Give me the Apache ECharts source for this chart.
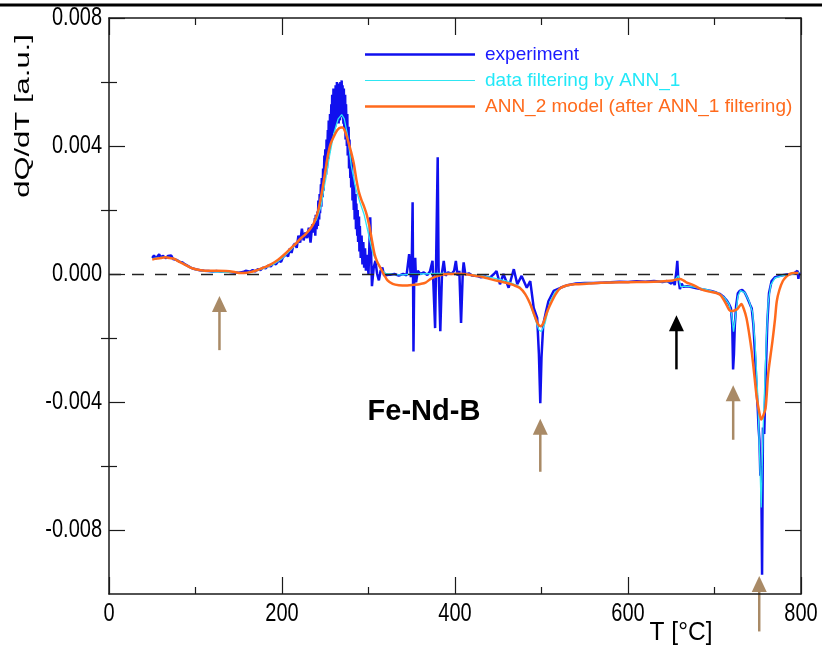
<!DOCTYPE html>
<html>
<head>
<meta charset="utf-8">
<script src="https://cdn.jsdelivr.net/npm/echarts@6/dist/echarts.min.js"></script>
<style>
  html, body { margin: 0; padding: 0; background: #fff; }
  #chart { width: 822px; height: 651px; }
</style>
</head>
<body>
<div id="chart"></div>
<script>
// Temperature axis (°C) and dQ/dT axis (a.u.)
const xTicks = [0, 200, 400, 600, 800];
const yMajorTicks = [-0.008, -0.004, 0, 0.004, 0.008];
const yMinorTicks = [-0.006, -0.002, 0.002, 0.006];

// Measured DSC signal, [T, dQ/dT]
const experiment = [
  [50,0.00050],[52,0.00058],[54,0.00048],[56,0.00055],[58,0.00062],[60,0.00050],[62,0.00057],[64,0.00060],
  [66,0.00049],[68,0.00056],[70,0.00052],[72,0.00058],[74,0.00047],[76,0.00053],[78,0.00044],[80,0.00046],
  [82,0.00038],[85,0.00036],[88,0.00030],[92,0.00024],[96,0.00018],[100,0.00015],[105,0.00012],[110,0.00010],
  [115,0.00009],[120,0.00008],[125,0.00009],[130,0.00007],[135,0.00009],[140,0.00006],[145,0.00005],[150,0.00004],
  [155,0.00006],[158,0.00010],[160,0.00005],[163,0.00007],[166,0.00012],[169,0.00008],[172,0.00015],[175,0.00012],
  [178,0.00020],[181,0.00018],[184,0.00026],[187,0.00024],[190,0.00033],[193,0.00030],[196,0.00042],[199,0.00038],
  [201,0.00052],[203,0.00046],[205,0.00062],[207,0.00055],[209,0.00080],[211,0.00066],[213,0.00088],[215,0.00095],
  [217,0.00082],[219,0.00120],[221,0.00098],[223,0.00142],[225,0.00105],[227,0.00130],[229,0.00112],[231,0.00145],
  [233,0.00098],[235,0.00155],[237,0.00130],[238,0.00175],[238.5,0.00120],[239,0.00185],[240,0.00140],[241,0.00195],
  [241.5,0.00150],[242,0.00230],[243,0.00170],[243.5,0.00250],[244,0.00190],[245,0.00280],[245.5,0.00210],[246,0.00300],
  [247,0.00240],[247.5,0.00330],[248,0.00260],[249,0.00370],[249.5,0.00290],[250,0.00390],[251,0.00310],[251.5,0.00420],
  [252,0.00330],[253,0.00450],[253.5,0.00360],[254,0.00480],[255,0.00380],[255.5,0.00500],[256,0.00400],[257,0.00530],
  [257.5,0.00420],[258,0.00560],[259,0.00450],[259.5,0.00580],[260,0.00440],[261,0.00570],[261.5,0.00460],[262,0.00590],
  [263,0.00470],[263.5,0.00600],[264,0.00480],[265,0.00595],[265.5,0.00470],[266,0.00580],[267,0.00480],[267.5,0.00600],
  [268,0.00490],[269,0.00605],[269.5,0.00500],[270,0.00590],[271,0.00470],[271.5,0.00580],[272,0.00450],[273,0.00560],
  [273.5,0.00420],[274,0.00530],[275,0.00400],[275.5,0.00500],[276,0.00370],[277,0.00460],[277.5,0.00330],[278,0.00420],
  [279,0.00300],[279.5,0.00380],[280,0.00270],[281,0.00350],[281.5,0.00230],[282,0.00310],[283,0.00200],[283.5,0.00280],
  [284,0.00170],[285,0.00250],[285.5,0.00140],[286,0.00220],[287,0.00120],[287.5,0.00200],[288,0.00100],[289,0.00180],
  [289.5,0.00070],[290,0.00150],[291,0.00050],[292,0.00120],[293,0.00030],[294,0.00100],[295,0.00020],[296,0.00080],
  [297,0.00010],[298,0.00060],[300,0.00000],[302,0.00177],[304,-0.00038],[306,0.00020],[308,0.00041],[310,0.00000],
  [312,-0.00020],[314,0.00010],[316,0.00020],[318,-0.00005],[320,0.00000],[325,-0.00002],[330,0.00000],[335,-0.00005],
  [340,0.00000],[344,-0.00004],[347,0.00062],[349,-0.00010],[350,0.00030],[351,0.00224],[352,-0.00242],[353,0.00030],
  [354,0.00051],[355,-0.00026],[357,0.00010],[360,0.00000],[364,0.00005],[368,-0.00003],[371,0.00008],[374,0.00041],
  [377,-0.00169],[378,0.00010],[380,0.00365],[381,0.00020],[383,-0.00179],[385,0.00005],[387,0.00041],[389,-0.00005],
  [392,0.00005],[396,0.00000],[399,0.00010],[401,0.00041],[403,-0.00005],[405,0.00010],[407,-0.00153],[409,0.00005],
  [410,0.00036],[412,-0.00002],[416,0.00002],[420,-0.00005],[425,-0.00006],[430,-0.00010],[435,-0.00008],[440,-0.00012],
  [445,0.00000],[448,0.00009],[452,-0.00032],[456,0.00000],[462,-0.00043],[468,0.00015],[472,-0.00032],[477,-0.00006],
  [483,-0.00043],[487,-0.00022],[491,-0.00106],[495,-0.00137],[497,-0.00250],[498.6,-0.00404],[500,-0.00260],[502,-0.00158],
  [505,-0.00120],[508,-0.00085],[514,-0.00053],[522,-0.00043],[530,-0.00035],[540,-0.00030],[550,-0.00028],[560,-0.00028],
  [570,-0.00027],[580,-0.00026],[590,-0.00024],[600,-0.00025],[610,-0.00023],[620,-0.00024],[630,-0.00022],[640,-0.00025],
  [645,-0.00022],[650,-0.00030],[652,-0.00020],[654,-0.00035],[656,0.00010],[657,0.00041],[658,-0.00010],[660,-0.00047],
  [662,-0.00030],[664,-0.00040],[668,-0.00038],[672,-0.00040],[678,-0.00044],[684,-0.00047],[690,-0.00050],[696,-0.00053],
  [702,-0.00058],[706,-0.00062],[710,-0.00070],[714,-0.00082],[717,-0.00095],[719,-0.00107],[720.5,-0.00160],[721.5,-0.00298],
  [722.5,-0.00250],[723.5,-0.00160],[725,-0.00100],[727,-0.00060],[729,-0.00053],[732,-0.00050],[735,-0.00058],[738,-0.00075],
  [741,-0.00095],[743,-0.00107],[745,-0.00160],[747,-0.00260],[749,-0.00377],[750,-0.00420],[751,-0.00483],[752,-0.00520],
  [753,-0.00630],[754,-0.00600],[755,-0.00940],[756,-0.00480],[757.5,-0.00500],[759,-0.00335],[761,-0.00157],[763,-0.00060],
  [766,-0.00022],[770,-0.00010],[775,-0.00006],[780,-0.00003],[788,0.00000],[792,0.00002],[796,0.00010],[797,-0.00015],
  [798,0.00005]
];

// Signal after ANN_1 filtering
const ann1Filtered = [
  [50,0.00048],[60,0.00052],[70,0.00052],[80,0.00042],[90,0.00026],[100,0.00014],[110,0.00009],[120,0.00007],
  [130,0.00006],[140,0.00005],[150,0.00004],[160,0.00005],[170,0.00010],[180,0.00018],[190,0.00030],[200,0.00048],
  [210,0.00075],[220,0.00105],[230,0.00132],[240,0.00170],[245,0.00210],[250,0.00290],[255,0.00370],[260,0.00440],
  [265,0.00485],[269,0.00498],[272,0.00485],[276,0.00430],[280,0.00340],[285,0.00270],[290,0.00225],[295,0.00185],
  [300,0.00125],[305,0.00065],[310,0.00035],[315,0.00012],[320,0.00002],[330,-0.00002],[340,-0.00003],[350,0.00000],
  [360,0.00000],[380,0.00002],[400,0.00002],[420,-0.00002],[440,-0.00010],[460,-0.00022],[475,-0.00040],[485,-0.00080],
  [492,-0.00135],[497,-0.00175],[500,-0.00180],[504,-0.00155],[510,-0.00085],[516,-0.00055],[525,-0.00040],[540,-0.00030],
  [560,-0.00028],[600,-0.00025],[640,-0.00023],[650,-0.00024],[655,-0.00015],[658,-0.00005],[661,-0.00040],[665,-0.00038],
  [675,-0.00040],[690,-0.00048],[705,-0.00060],[712,-0.00075],[717,-0.00095],[720,-0.00130],[722,-0.00180],[724,-0.00140],
  [727,-0.00070],[730,-0.00052],[735,-0.00058],[740,-0.00085],[744,-0.00120],[747,-0.00220],[750,-0.00380],[752,-0.00550],
  [754,-0.00730],[756,-0.00500],[758,-0.00350],[760,-0.00200],[762,-0.00090],[765,-0.00035],[770,-0.00012],[780,-0.00004],
  [790,0.00000],[798,0.00004]
];

// ANN_2 model output
const ann2Model = [
  [50,0.00045],[55,0.00048],[60,0.00050],[65,0.00052],[70,0.00050],[75,0.00048],[80,0.00040],[85,0.00033],
  [90,0.00026],[95,0.00019],[100,0.00015],[106,0.00012],[115,0.00010],[125,0.00010],[135,0.00009],[145,0.00006],
  [152,0.00003],[160,0.00004],[165,0.00007],[170,0.00011],[175,0.00016],[181,0.00022],[187,0.00030],[193,0.00040],
  [198,0.00050],[204,0.00064],[210,0.00080],[216,0.00095],[221,0.00110],[227,0.00124],[233,0.00142],[237,0.00160],
  [241,0.00190],[244,0.00225],[247,0.00270],[250,0.00320],[253,0.00370],[256,0.00405],[260,0.00430],[264,0.00450],
  [268,0.00458],[270,0.00458],[273,0.00445],[277,0.00410],[280,0.00380],[283,0.00345],[286,0.00295],[289,0.00255],
  [292,0.00230],[295,0.00210],[298,0.00185],[301,0.00150],[304,0.00105],[307,0.00062],[310,0.00038],[314,0.00018],
  [318,-0.00002],[322,-0.00020],[328,-0.00031],[335,-0.00035],[345,-0.00036],[352,-0.00034],[360,-0.00031],[366,-0.00027],
  [372,-0.00015],[380,-0.00006],[388,-0.00001],[395,0.00000],[403,0.00001],[410,0.00000],[418,-0.00003],[425,-0.00006],
  [433,-0.00010],[441,-0.00016],[450,-0.00022],[460,-0.00028],[468,-0.00035],[475,-0.00044],[481,-0.00062],[487,-0.00094],
  [492,-0.00130],[496,-0.00157],[499,-0.00163],[502,-0.00154],[507,-0.00115],[512,-0.00085],[517,-0.00060],[522,-0.00044],
  [530,-0.00035],[540,-0.00032],[555,-0.00030],[568,-0.00027],[590,-0.00026],[610,-0.00025],[630,-0.00024],[645,-0.00022],
  [652,-0.00020],[656,-0.00017],[660,-0.00016],[664,-0.00020],[668,-0.00027],[672,-0.00031],[678,-0.00038],[684,-0.00047],
  [694,-0.00055],[703,-0.00060],[707,-0.00066],[710,-0.00078],[714,-0.00097],[717,-0.00112],[720,-0.00116],[723,-0.00114],
  [726,-0.00110],[729,-0.00100],[731,-0.00094],[734,-0.00110],[737,-0.00138],[740,-0.00185],[743,-0.00242],[746,-0.00315],
  [749,-0.00389],[752,-0.00435],[754,-0.00455],[756,-0.00445],[759,-0.00420],[762,-0.00314],[765,-0.00250],[767,-0.00210],
  [770,-0.00140],[772,-0.00085],[775,-0.00050],[779,-0.00022],[783,-0.00008],[787,0.00000],[792,0.00003],[797,0.00003]
];

// Arrows marking thermal events: [T, tip, tail]
const eventArrows = [
  [127.7, -0.00069, -0.00238],
  [498.6, -0.00452, -0.00618],
  [721.6, -0.00348, -0.00518],
  [751.7, -0.00944, -0.01117]
];
const magneticArrow = [656.0, -0.00129, -0.00298];

const COL_EXP = '#1010ee';
const COL_ANN1 = '#2ee6f2';
const COL_ANN2 = '#ff6a1c';
const COL_ARROW = '#a98a66';
const TXT_FONT = '"Liberation Sans", Arial, sans-serif';
const NUM_SIZE = 25;
const NUM_SQUEEZE = 0.8;   // condensed look of the numeric labels

// legend swatches: a bar of the given thickness inside a 110x14 box
function swatch(thick) {
  const a = (7 - thick / 2).toFixed(2), b = (7 + thick / 2).toFixed(2);
  return 'path://M0,0M0,14M0,' + a + 'H110V' + b + 'H0Z';
}

const chart = echarts.init(document.getElementById('chart'), null, { renderer: 'canvas' });

const frameLine = { show: true, onZero: false, lineStyle: { color: '#1a1a1a', width: 1.5 } };

function yAxisDef(position, ticks, len, showLine) {
  return {
    type: 'value', position: position, min: -0.010, max: 0.008, interval: 0.002,
    axisLine: showLine ? frameLine : { show: false },
    splitLine: { show: false },
    axisTick: { show: true, inside: true, length: len, customValues: ticks,
                lineStyle: { color: '#1a1a1a', width: 1.2 } },
    axisLabel: { show: false }
  };
}

function xAxisDef(position) {
  return {
    type: 'value', position: position, min: 0, max: 800, interval: 200,
    axisLine: frameLine,
    splitLine: { show: false },
    axisTick: { show: true, inside: true, length: 17, lineStyle: { color: '#1a1a1a', width: 1.2 } },
    minorTick: { show: true, splitNumber: 2, length: 7, lineStyle: { color: '#1a1a1a', width: 1.2 } },
    axisLabel: { show: false }
  };
}

const staticGraphics = [
  { id: 'rule', type: 'rect', shape: { x: 0, y: 3.5, width: 822, height: 3 }, style: { fill: '#000' }, silent: true },
  {
    id: 'ytitle', type: 'text', x: 23, y: 116, rotation: Math.PI / 2, scaleX: 1.55,
    style: { text: 'dQ/dT [a.u.]', font: '20px ' + TXT_FONT, fill: '#000', align: 'center', verticalAlign: 'middle' }
  },
  {
    id: 'xtitle', type: 'text', x: 681, y: 633, scaleX: 0.98,
    style: { text: 'T [°C]', font: NUM_SIZE + 'px ' + TXT_FONT, fill: '#000', align: 'center', verticalAlign: 'middle' }
  },
  {
    id: 'sample', type: 'text', x: 424, y: 412,
    style: { text: 'Fe-Nd-B', font: 'bold 29px ' + TXT_FONT, fill: '#000', align: 'center', verticalAlign: 'middle' }
  }
];

const option = {
  animation: false,
  backgroundColor: '#ffffff',
  grid: { left: 109, right: 21, top: 18, bottom: 57, containLabel: false },
  xAxis: [xAxisDef('bottom'), xAxisDef('top')],
  yAxis: [
    yAxisDef('left', yMajorTicks, 16, true),
    yAxisDef('left', yMinorTicks, 8, false),
    yAxisDef('right', yMajorTicks, 16, true),
    yAxisDef('right', yMinorTicks, 8, false)
  ],
  legend: {
    orient: 'vertical', left: 360, top: 40,
    itemWidth: 110, itemHeight: 14, itemGap: 7,
    textStyle: { fontFamily: TXT_FONT, fontSize: 19, padding: [0, 0, 0, 5] },
    data: [
      { name: 'experiment', icon: swatch(2.6), textStyle: { color: '#1a1aff' } },
      { name: 'data filtering by ANN_1', icon: swatch(1.2), textStyle: { color: '#22e8f8' } },
      { name: 'ANN_2 model (after ANN_1 filtering)', icon: swatch(2.6), textStyle: { color: '#ff6a1c' } }
    ]
  },
  series: [
    {
      name: 'experiment', type: 'line', data: experiment,
      showSymbol: false, symbol: 'none', sampling: 'none',
      lineStyle: { color: COL_EXP, width: 2.5 }, itemStyle: { color: COL_EXP },
      z: 2,
      markLine: {
        silent: true, symbol: 'none', label: { show: false },
        lineStyle: { color: '#222', width: 1.3, type: [12, 11] },
        data: [{ yAxis: 0 }]
      }
    },
    {
      name: 'data filtering by ANN_1', type: 'line', data: ann1Filtered,
      showSymbol: false, symbol: 'none',
      lineStyle: { color: COL_ANN1, width: 1.3 }, itemStyle: { color: COL_ANN1 },
      z: 3
    },
    {
      name: 'ANN_2 model (after ANN_1 filtering)', type: 'line', data: ann2Model,
      showSymbol: false, symbol: 'none', smooth: 0.3,
      lineStyle: { color: COL_ANN2, width: 2.5 }, itemStyle: { color: COL_ANN2 },
      z: 4
    }
  ],
  graphic: staticGraphics
};

chart.setOption(option);

// Everything below is placed through the axes' own scales
const toPx = (x, y) => chart.convertToPixel({ xAxisIndex: 0, yAxisIndex: 0 }, [x, y]);
const plotLeft = option.grid.left;
const plotBottom = 651 - option.grid.bottom;
const extra = [];

// Tick labels, drawn condensed
yMajorTicks.forEach((v, i) => {
  const py = chart.convertToPixel({ yAxisIndex: 0 }, v);
  extra.push({
    id: 'ylab' + i, type: 'text', x: plotLeft - 7, y: py, scaleX: NUM_SQUEEZE,
    style: { text: (Math.abs(v) < 1e-12 ? 0 : v).toFixed(3), font: NUM_SIZE + 'px ' + TXT_FONT,
             fill: '#000', align: 'right', verticalAlign: 'middle' }
  });
});
xTicks.forEach((v, i) => {
  const px = chart.convertToPixel({ xAxisIndex: 0 }, v);
  extra.push({
    id: 'xlab' + i, type: 'text', x: px, y: plotBottom + 8, scaleX: NUM_SQUEEZE,
    style: { text: String(v), font: NUM_SIZE + 'px ' + TXT_FONT,
             fill: '#000', align: 'center', verticalAlign: 'top' }
  });
});

// Event arrows: shaft plus a filled triangular head
function arrow(id, a, color) {
  const tip = toPx(a[0], a[1]);
  const tail = toPx(a[0], a[2]);
  const headLen = 16, headHalf = 7.5;
  return {
    id: id, type: 'group', silent: true, z: 20,
    children: [
      { type: 'line', shape: { x1: tail[0], y1: tail[1], x2: tip[0], y2: tip[1] + headLen - 2 },
        style: { stroke: color, lineWidth: 2.5 } },
      { type: 'polygon', shape: { points: [[tip[0], tip[1]], [tip[0] - headHalf, tip[1] + headLen], [tip[0] + headHalf, tip[1] + headLen]] },
        style: { fill: color } }
    ]
  };
}
eventArrows.forEach((a, i) => extra.push(arrow('arrow' + i, a, COL_ARROW)));
extra.push(arrow('arrowMag', magneticArrow, '#000'));

chart.setOption({ graphic: staticGraphics.concat(extra) });
</script>
</body>
</html>
